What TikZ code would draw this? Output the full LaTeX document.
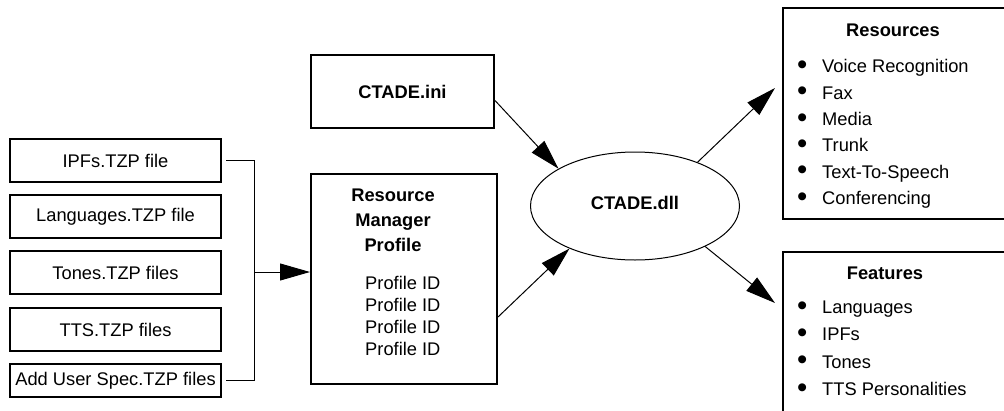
\documentclass[tikz,border=0pt]{standalone}
\usepackage{fontspec}
\setmainfont{Liberation Sans}
\usetikzlibrary{arrows.meta,shapes.geometric,calc}
\tikzset{
  box/.style={draw, line width=2pt, rectangle, inner sep=0pt},
  filebox/.style={box, minimum width=211pt, minimum height=43pt},
  conn/.style={line width=1pt},
  bigarrow/.style={conn, -{Triangle[length=30pt,width=17pt]}},
  lbl/.style={font=\fontsize{18.3}{22}\selectfont, inner sep=0pt},
  ttl/.style={font=\fontsize{18.3}{22}\selectfont\bfseries, inner sep=0pt},
}
\newcommand\itm{\makebox[24pt]{\raisebox{-1.6pt}{\scalebox{1.6}{•}}}\hspace{8pt}}

\begin{document}
\begin{tikzpicture}[x=1pt,y=-1pt]
\useasboundingbox (0,0) rectangle (1004,410);
\clip (0,0) rectangle (1004,410);
\fill[white] (0,0) rectangle (1004,410);

% input files
\node[filebox, lbl] (ipf) at (115.5,160.5) {IPFs.TZP file};
\node[filebox, lbl] (lng) at (115.5,216.5) {Languages.TZP file};
\node[filebox, lbl] (ton) at (115.5,272.5) {Tones.TZP files};
\node[filebox, lbl] (tts) at (115.5,329.5) {TTS.TZP files};
\node[filebox, lbl, minimum height=33pt] (usr) at (115.5,380.5) {Add User Spec.TZP files};

% resource manager profile
\node[box, minimum width=186pt, minimum height=210pt] (rmp) at (404,279) {};
\node[ttl, font=\fontsize{18.3}{25}\selectfont\bfseries, align=center] (rmpt) at (393,220) {Resource\\Manager\\Profile};
\node[lbl, align=left, anchor=west] (rmpl) at (365,316) {Profile ID\\Profile ID\\Profile ID\\Profile ID};

% configuration file
\node[box, ttl, minimum width=183pt, minimum height=73pt] (ini) at (402.5,91.5) {CTADE.ini};

% library
\node[draw, conn, ellipse, minimum width=209pt, minimum height=108pt, inner sep=0pt, ttl] (dll) at (635,206) {\raisebox{7pt}{CTADE.dll}};

% resources
\node[box, minimum width=240pt, minimum height=211pt, anchor=north west] (res) at (782,7) {};
\node[ttl] (rest) at (893,30) {Resources};
\node[lbl, align=left, anchor=west, font=\fontsize{18.3}{26.4}\selectfont] (resl) at (790,134)
  {\itm Voice Recognition\\\itm Fax\\\itm Media\\\itm Trunk\\\itm Text-To-Speech\\\itm Conferencing};

% features
\node[box, minimum width=240pt, minimum height=200pt, anchor=north west] (feat) at (782,251) {};
\node[ttl] (featt) at (885,273) {Features};
\node[lbl, align=left, anchor=west, font=\fontsize{18.3}{27.3}\selectfont] (featl) at (790,349)
  {\itm Languages\\\itm IPFs\\\itm Tones\\\itm TTS Personalities};

% bracket gathering the files
\draw[conn] ([xshift=4pt]ipf.east) -- ++(28,0) coordinate (bk) |- ([xshift=4pt]usr.east);
\coordinate (rmpin) at ([yshift=7pt]rmp.west);
\draw[bigarrow] (bk |- rmpin) -- (rmpin);

% arrows into and out of the library
\draw[bigarrow] ([yshift=-9pt]ini.east) -- (dll.154);
\draw[bigarrow] ([yshift=-38pt]rmp.east) -- (dll.213);
\coordinate (restip) at (775,88);
\coordinate (feattip) at (775,303);
\draw[bigarrow] (dll.35) -- (restip);
\draw[bigarrow] (dll.-30) -- (feattip);
\end{tikzpicture}
\end{document}
